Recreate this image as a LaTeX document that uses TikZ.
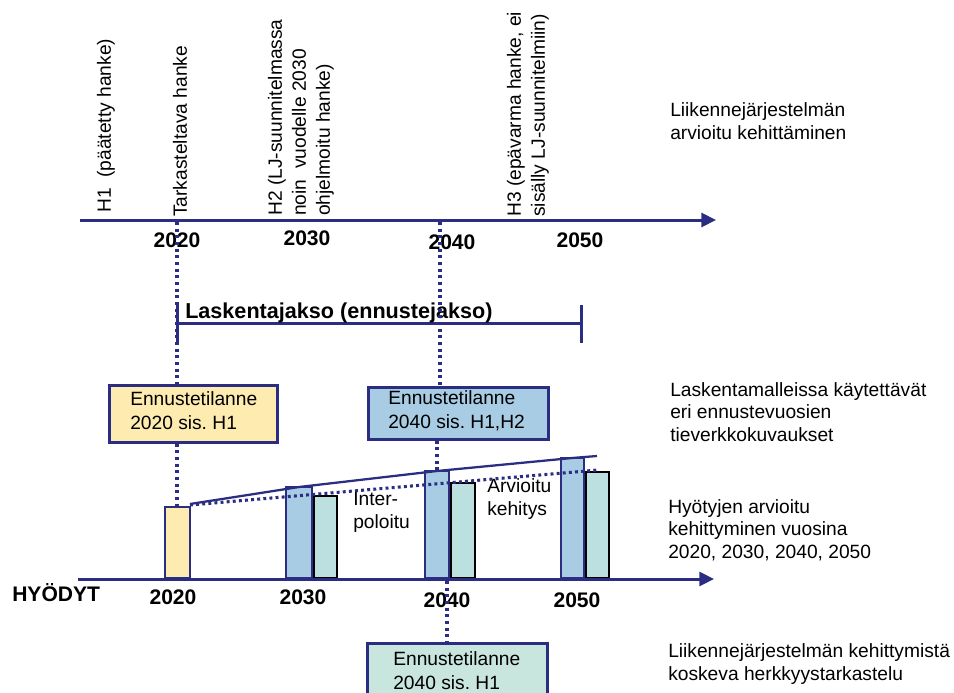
\documentclass[tikz,border=0pt]{standalone}
\usepackage{fontspec}
\setmainfont{Liberation Sans}
\usetikzlibrary{arrows.meta}
\definecolor{navy}{RGB}{42,45,130}
\definecolor{ylw}{RGB}{253,235,176}
\definecolor{barblue}{RGB}{168,204,227}
\definecolor{barteal}{RGB}{188,224,224}
\definecolor{boxteal}{RGB}{200,230,222}
\begin{document}
\frenchspacing
\begin{tikzpicture}[x=0.75pt,y=-0.75pt,
  lbl/.style={font=\fontsize{14.4}{17}\selectfont, inner sep=0pt, align=left, text=black},
  blbl/.style={font=\fontsize{14.4}{18}\selectfont, inner sep=0pt, align=left, text=black, anchor=west},
  rlbl/.style={font=\fontsize{14.4}{18}\selectfont, inner sep=0pt, align=left, rotate=90, anchor=west},
  yr/.style={font=\fontsize{15.8}{18}\bfseries\selectfont, inner sep=0pt},
  axisline/.style={draw=navy, line width=2.25pt, -{Triangle[length=11pt,width=10.5pt]}},
  vdots/.style={draw=navy, line width=2.4pt, dash pattern=on 2.3pt off 2.7pt},
  gdots/.style={draw=navy, line width=2.3pt, dash pattern=on 2.2pt off 2.4pt},
  gline/.style={draw=navy, line width=1.7pt},
  fbox/.style={draw=navy, line width=2.25pt, inner sep=0pt},
  bluebar/.style={fill=barblue, draw=navy, line width=1.1pt},
  tealbar/.style={fill=barteal, draw=black, line width=1.5pt},
  ylwbar/.style={fill=ylw, draw=navy, line width=1.1pt},
  period/.style={draw=navy, line width=2.25pt}
]
\useasboundingbox (0,0) rectangle (954,693);
\clip (0,0) rectangle (954,693);

% ---------- top axis ----------
\coordinate (ta0) at (80,220);
\coordinate (ta1) at (716,220);
\draw[axisline] (ta0) -- (ta1);

\node[rlbl] (h1) at (106,213) {H1\ \ (päätetty hanke)};
\node[rlbl] (tark) at (180,217) {Tarkasteltava hanke};
\node[rlbl] (h2) at (301,216) {H2 (LJ-suunnitelmassa\\noin\ \ vuodelle 2030\\ohjelmoitu hanke)};
\node[rlbl] (h3) at (528,217) {H3 (epävarma hanke, ei\\sisälly LJ-suunnitelmiin)};

\node[yr] (t2020) at (177,240) {2020};
\node[yr] (t2030) at (307,238) {2030};
\node[yr] (t2040) at (452,242) {2040};
\node[yr] (t2050) at (580,240) {2050};

\node[lbl, anchor=west] (r1) at (670,121) {Liikennejärjestelmän\\arvioitu kehittäminen};

% ---------- calculation period ----------
\coordinate (p0) at (177,323);
\coordinate (p1) at (581,323);
\draw[period] (p0) -- (p1);
\draw[period] (177,305) -- (177,343);
\draw[period] (581,305) -- (581,343);
\node[font=\fontsize{16.2}{19}\bfseries\selectfont, inner sep=0pt, anchor=west] (lask) at (185,313) {Laskentajakso (ennustejakso)};

% ---------- forecast boxes ----------
\node[fbox, fill=ylw, minimum width=126pt, minimum height=42.75pt] (e2020) at (193,413.5) {};
\node[blbl] (e2020t) at (130,411) {Ennustetilanne\\2020 sis. H1};
\node[fbox, fill=barblue, minimum width=135pt, minimum height=39pt] (e2040) at (458,413) {};
\node[blbl] (e2040t) at (388,411) {Ennustetilanne\\2040 sis. H1,H2};
\node[fbox, fill=boxteal, minimum width=135pt, minimum height=42pt] (e2040b) at (457,671) {};
\node[blbl] (e2040bt) at (393,671) {Ennustetilanne\\2040 sis. H1};

\node[lbl, anchor=west] (r2) at (670,412) {Laskentamalleissa käytettävät\\eri ennustevuosien\\tieverkkokuvaukset};

% ---------- bars ----------
\draw[ylwbar] (165,578) rectangle (190,507);
\draw[bluebar] (286,578) rectangle (312,487);
\draw[tealbar] (314,578) rectangle (337,496);
\draw[bluebar] (425,578) rectangle (449,471);
\draw[tealbar] (451,578) rectangle (475,483);
\draw[bluebar] (561,578) rectangle (584,458);
\draw[tealbar] (586,578) rectangle (609,472);

\coordinate (g0) at (190,505);
\coordinate (g1) at (598,470);
\draw[gdots] (g0) -- (g1);
\draw[gline] (190,504) -- (299,487) -- (437,471) -- (572,458) -- (597,456);

\node[lbl, anchor=west] (inter) at (353,512.5) {Inter-\\poloitu};
\node[lbl, anchor=west] (arv) at (487,499) {Arvioitu\\kehitys};

\node[lbl, anchor=west] (r3) at (668,530) {Hyötyjen arvioitu\\kehittyminen vuosina\\2020, 2030, 2040, 2050};

% ---------- bottom axis ----------
\coordinate (ba0) at (78,579);
\coordinate (ba1) at (714,579);
\draw[axisline] (ba0) -- (ba1);

\node[yr, anchor=west] (hyo) at (12,593) {HYÖDYT};
\node[yr] (b2020) at (173,597) {2020};
\node[yr] (b2030) at (303,597) {2030};
\node[yr] (b2040) at (447,600) {2040};
\node[yr] (b2050) at (577,600) {2050};

\node[lbl, anchor=west] (r4) at (668,664) {Liikennejärjestelmän kehittymistä\\koskeva herkkyystarkastelu};

% ---------- dotted guide lines ----------
\coordinate (d2020) at (177,222);
\draw[vdots] (d2020) -- (d2020 |- e2020.north);
\draw[vdots] (d2020 |- e2020.south) -- (177,506);
\coordinate (d2040) at (440,222);
\draw[vdots] (d2040) -- (d2040 |- e2040.north);
\coordinate (d2040m) at (437,440);
\draw[vdots] (d2040m |- e2040.south) -- (437,470);
\coordinate (d2040b) at (447,581);
\draw[vdots] (d2040b) -- (d2040b |- e2040b.north);
\end{tikzpicture}
\end{document}
